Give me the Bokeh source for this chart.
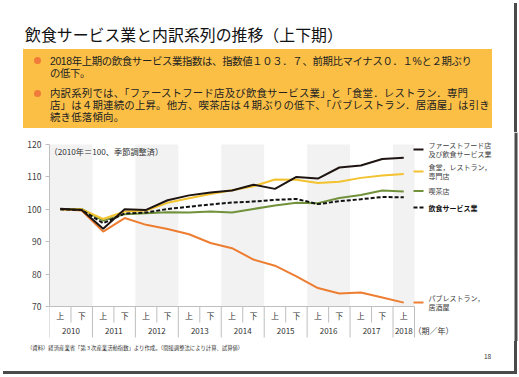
from bokeh.plotting import figure
from bokeh.models import FixedTicker, LinearAxis, Range1d, Div
from bokeh.layouts import column
from bokeh.core.properties import value
from bokeh.embed import file_html
from bokeh.resources import INLINE

# ---------------- data ----------------
years = [2010, 2011, 2012, 2013, 2014, 2015, 2016, 2017, 2018]
halves = ["上", "下"] * 8 + ["上"]
fastfood = [100.2, 99.8, 94.0, 100.0, 99.8, 102.8, 104.3, 105.2, 105.8, 107.6, 106.3, 110.0, 109.5, 112.9, 113.5, 115.5, 115.9]
restaurant = [100.0, 100.0, 97.0, 99.3, 99.6, 102.0, 103.4, 104.7, 105.9, 107.1, 109.2, 109.1, 108.1, 108.5, 109.7, 110.4, 110.9]
cafe = [100.0, 100.1, 96.5, 98.5, 98.8, 99.1, 99.0, 99.3, 99.0, 100.1, 101.2, 102.0, 101.9, 103.5, 104.4, 105.8, 105.5]
total = [100.0, 99.8, 95.7, 98.7, 99.0, 100.1, 100.8, 101.5, 102.1, 102.4, 102.9, 103.2, 101.6, 102.5, 103.1, 103.8, 103.7]
pub = [100.0, 99.6, 93.1, 97.3, 95.2, 93.9, 92.3, 89.6, 88.0, 84.5, 82.6, 79.3, 75.7, 74.0, 74.3, 72.8, 71.2]
y_ticks = [70, 80, 90, 100, 110, 120]
shaded_years = [2010, 2012, 2014, 2016, 2018]

series_names = [["ファーストフード店", "及び飲食サービス業"], ["食堂，レストラン，", "専門店"],
                ["喫茶店"], ["飲食サービス業"], ["パブレストラン，", "居酒屋"]]

title_text = "飲食サービス業と内訳系列の推移（上下期）"
bullet1 = ["2018年上期の飲食サービス業指数は、指数値１０３．７、前期比マイナス０．１%と２期ぶり",
           "の低下。"]
bullet2 = ["内訳系列では、「ファーストフード店及び飲食サービス業」と「食堂．レストラン．専門",
           "店」は４期連続の上昇。他方、喫茶店は４期ぶりの低下、「パブレストラン．居酒屋」は引き",
           "続き低落傾向。"]
note_text = "（2010年＝100、季節調整済）"
source_text = "（資料）経済産業省「第３次産業活動指数」より作成。（間接調整法により計算、試算値）"
unit_text = "（期／年）"
page_no = "18"

# ---------------- layout constants (canvas pixels) ----------------
W, H = 519, 377
HEAD_H = 132          # header strip: canvas y 0..132
MAIN_B = 341          # chart strip: canvas y 132..341
FL, FR, FT, FB = 49, 414, 144, 306   # plot area of the chart
FONT = "Noto Sans CJK JP"
PARA_FONT = "'Liberation Sans','Noto Sans CJK JP'"
SHADOW = "#4A4A4A"
n = len(halves)
xs = [i + 0.5 for i in range(n)]


def span(text, left, cy, size, color="#222222", ls=0.0, weight="normal"):
    top = cy - 0.56 * size
    return (f'<div style="position:absolute;left:{left}px;top:{top:.2f}px;font-family:\'{FONT}\';'
            f'font-size:{size}px;line-height:1;color:{color};white-space:nowrap;'
            f'letter-spacing:{ls}px;font-weight:{weight};">{text}</div>')


def para(lines, ls, left, cy0, size, lh, color="#222222"):
    # one text block with several lines; cy0 = centre of first line
    top = cy0 - lh / 2 + 0.03 * size
    body = "<br>".join(lines)
    return (f'<div style="position:absolute;left:{left}px;top:{top:.2f}px;font-family:{PARA_FONT};'
            f'font-size:{size}px;line-height:{lh}px;color:{color};white-space:nowrap;'
            f'letter-spacing:{ls}px;">{body}</div>')


def rect(left, top, w, h, color, radius=0):
    return (f'<div style="position:absolute;left:{left}px;top:{top}px;width:{w}px;height:{h}px;'
            f'background:{color};border-radius:{radius}px;"></div>')


def block(h, parts):
    inner = "".join(parts)
    html = (f'<div style="position:relative;width:{W}px;height:{h}px;overflow:hidden;'
            f'background:white;margin:0;padding:0;">{inner}</div>')
    return Div(text=html, width=W, height=h, margin=0)


# ---------------- header ----------------
head_parts = [
    rect(23, 49, 469, 79, "#FBBF45"),
    rect(514, 3, 3, HEAD_H - 3, SHADOW),
    span(title_text, 25, 35.5, 15.9, color="#111111"),
    rect(33.5, 57, 7, 7, "#F07A3A", radius=4),
    rect(33.5, 89.8, 7, 7, "#F07A3A", radius=4),
    para(bullet1, -0.36, 50, 61.3, 10.4, 11.8),
    para(bullet2, 0.22, 50, 93.5, 10.4, 11.8),
]
head = block(HEAD_H, head_parts)

# ---------------- main chart ----------------
main_h = MAIN_B - HEAD_H
px_x = (FR - FL) / n
px_y = (FB - FT) / (y_ticks[-1] - y_ticks[0])
x_end = (W - FL) / px_x
y_top = y_ticks[-1] + (FT - HEAD_H) / px_y
y_bot = y_ticks[0] - (MAIN_B - FB) / px_y

p = figure(width=W, height=main_h, x_range=Range1d(0, x_end), y_range=Range1d(y_bot, y_top),
           output_backend="svg", toolbar_location=None, x_axis_type=None, y_axis_type=None,
           min_border_left=FL, min_border_right=0, min_border_top=0, min_border_bottom=0)
p.outline_line_color = None
p.background_fill_color = "white"
p.border_fill_color = "white"


def dx(cx):
    return (cx - FL) / px_x


def dy(cy):
    return y_ticks[-1] - (cy - FT) / px_y


def txt(f, x, y, s, size, color="#333333", align="left", bold=False):
    f.text(x=[x], y=[y], text=[s], text_font=value(FONT), text_font_size=value(f"{size}px"),
           text_color=color, text_align=align, text_baseline="middle",
           text_font_style="bold" if bold else "normal")


yax = LinearAxis(ticker=FixedTicker(ticks=y_ticks, minor_ticks=[]), bounds=(y_ticks[0], y_ticks[-1]))
yax.axis_line_color = "#BFBFBF"
yax.major_tick_line_color = "#BFBFBF"
yax.major_tick_out = 4
yax.major_tick_in = 0
yax.major_label_standoff = 4
yax.major_label_text_font = FONT
yax.major_label_text_font_size = "8.5px"
yax.major_label_text_color = "#404040"
p.add_layout(yax, "left")

# shaded year bands
band_left = [2 * (y - years[0]) for y in shaded_years]
band_right = [min(l + 2, n) for l in band_left]
p.quad(left=band_left, right=band_right, bottom=y_ticks[0], top=y_ticks[-1],
       fill_color="#F2F2F2", line_color=None)

# x axis line and separators
year_bounds = [2 * (y - years[0]) for y in years] + [n]
half_bounds = [2 * (y - years[0]) + 1 for y in years if 2 * (y - years[0]) + 1 < n]
p.segment(x0=[0], y0=[y_ticks[0]], x1=[n], y1=[y_ticks[0]], line_color="#BFBFBF", line_width=1)
p.segment(x0=year_bounds, y0=[y_ticks[0]] * len(year_bounds), x1=year_bounds,
          y1=[dy(337)] * len(year_bounds), line_color="#BFBFBF", line_width=1)
p.segment(x0=half_bounds, y0=[y_ticks[0]] * len(half_bounds), x1=half_bounds,
          y1=[dy(322)] * len(half_bounds), line_color="#BFBFBF", line_width=1)

# series
colors = ["#1E1512", "#F3C22F", "#71913B", "#111111", "#ED7D31"]
dashes = ["solid", "solid", "solid", "4 2", "solid"]
values = [fastfood, restaurant, cafe, total, pub]
for k in [4, 2, 1, 3, 0]:
    p.line(xs, values[k], line_color=colors[k], line_width=2, line_dash=dashes[k])

# category labels
p.text(x=xs, y=[dy(315)] * n, text=halves, text_font=value(FONT), text_font_size=value("8px"),
       text_color="#333333", text_align="center", text_baseline="middle")
year_c = [(2 * (y - years[0]) + min(2 * (y - years[0]) + 2, n)) / 2 for y in years]
p.text(x=year_c, y=[dy(330)] * len(years), text=[str(y) for y in years], text_font=value(FONT),
       text_font_size=value("8px"), text_color="#333333", text_align="center", text_baseline="middle")
txt(p, dx(413), dy(330), unit_text, 8)
txt(p, dx(49), dy(150), note_text, 8.2)

# legend at right
legend_y = [149, 171, 190.5, 207, 302]
for k in range(5):
    cy = legend_y[k]
    p.segment(x0=[dx(413)], y0=[dy(cy)], x1=[dx(423)], y1=[dy(cy)], line_color=colors[k],
              line_width=2, line_dash=dashes[k])
    lines = series_names[k]
    bold = (k == 3)
    if len(lines) == 1:
        txt(p, dx(428), dy(cy), lines[0], 7, color="#111111" if bold else "#404040", bold=bold)
    else:
        txt(p, dx(428), dy(cy - 4.5), lines[0], 7, color="#404040")
        txt(p, dx(428), dy(cy + 4.5), lines[1], 7, color="#404040")

p.quad(left=[dx(514)], right=[dx(517)], top=[dy(HEAD_H)], bottom=[dy(MAIN_B)],
       fill_color=SHADOW, line_color=None)

# ---------------- footer ----------------
FH = H - MAIN_B
foot_parts = [
    span(source_text, 27, 349 - MAIN_B, 5.35, color="#333333"),
    span(page_no, 484, 356.5 - MAIN_B, 6.5, color="#333333"),
    rect(514, 0, 3, 374 - MAIN_B, SHADOW),
    rect(3, 371 - MAIN_B, 514, 3, SHADOW),
]
foot = block(FH, foot_parts)

layout = column(head, p, foot, spacing=0)
open("out.html", "w").write(file_html(layout, INLINE))
